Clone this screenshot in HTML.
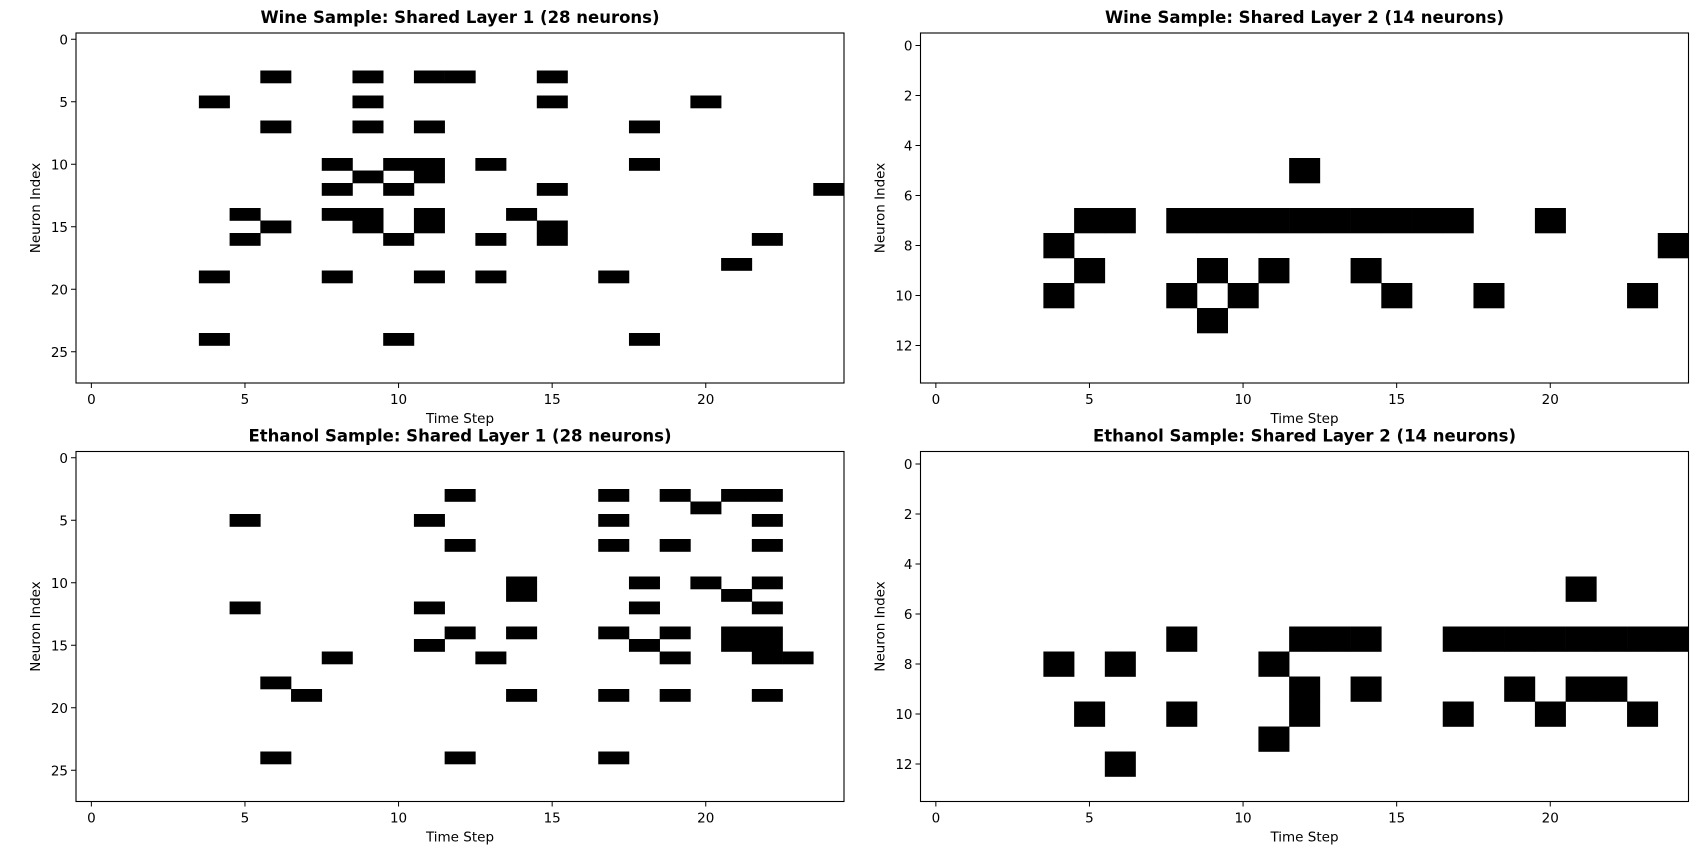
<!DOCTYPE html>
<html><head><meta charset="utf-8"><style>
html,body{margin:0;padding:0;background:#fff;}
svg{display:block;font-family:"DejaVu Sans","Liberation Sans",sans-serif;}
</style></head><body>
<svg id="fig" width="1706" height="852" viewBox="0 0 1706 852"></svg>
<script>
// Active time-step columns, one list per neuron row
const wineL1Spikes = [[],[],[],[6,9,11,12,15],[],[4,9,15,20],[],[6,9,11,18],[],[],[8,10,11,13,18],[9,11],[8,10,15,24],[],[5,8,9,11,14],[6,9,11,15],[5,10,13,15,22],[],[21],[4,8,11,13,17],[],[],[],[],[4,10,18],[],[],[]];
const wineL2Spikes = [[],[],[],[],[],[12],[],[5,6,8,9,10,11,12,13,14,15,16,17,20],[4,24],[5,9,11,14],[4,8,10,15,18,23],[9],[],[]];
const ethL1Spikes = [[],[],[],[12,17,19,21,22],[20],[5,11,17,22],[],[12,17,19,22],[],[],[14,18,20,22],[14,21],[5,11,18,22],[],[12,14,17,19,21,22],[11,18,21,22],[8,13,19,22,23],[],[6],[7,14,17,19,22],[],[],[],[],[6,12,17],[],[],[]];
const ethL2Spikes = [[],[],[],[],[],[21],[],[8,12,13,14,17,18,19,20,21,22,23,24],[4,6,11],[12,14,19,21,22],[5,8,12,17,20,23],[11],[6],[]];
const xTicks = [0,5,10,15,20];
const yTicksL1 = [0,5,10,15,20,25];
const yTicksL2 = [0,2,4,6,8,10,12];
const nSteps = 25;

const NS='http://www.w3.org/2000/svg';
const svg=document.getElementById('fig');
function mk(tag,attrs,parent){const e=document.createElementNS(NS,tag);for(const k in attrs)e.setAttribute(k,attrs[k]);(parent||svg).appendChild(e);return e;}

const panels=[
 {title:'Wine Sample: Shared Layer 1 (28 neurons)',data:wineL1Spikes,yt:yTicksL1,x:76,y:33,name:'wine-layer1'},
 {title:'Wine Sample: Shared Layer 2 (14 neurons)',data:wineL2Spikes,yt:yTicksL2,x:920.5,y:33,name:'wine-layer2'},
 {title:'Ethanol Sample: Shared Layer 1 (28 neurons)',data:ethL1Spikes,yt:yTicksL1,x:76,y:451.5,name:'ethanol-layer1'},
 {title:'Ethanol Sample: Shared Layer 2 (14 neurons)',data:ethL2Spikes,yt:yTicksL2,x:920.5,y:451.5,name:'ethanol-layer2'}
];
const W=768,H=350;
panels.forEach(p=>{
  const g=mk('g',{});
  
  
  const nRows=p.data.length;
  const xs=v=>p.x+(v+0.5)*W/nSteps;
  const ys=v=>p.y+(v+0.5)*H/nRows;
  const cw=W/nSteps, ch=H/nRows;
  p.data.forEach((cols,r)=>{
    cols.forEach(c=>{
      const rc=mk('rect',{x:xs(c)-cw/2,y:ys(r)-ch/2,width:cw+0.3,height:ch+0.3,fill:'#000'},g);
      
      
    });
  });
  const fr=mk('rect',{x:p.x,y:p.y,width:W,height:H,fill:'none',stroke:'#000','stroke-width':1.1},g);
  
  
  xTicks.forEach(t=>{
    const X=xs(t);
    mk('line',{x1:X,y1:p.y+H,x2:X,y2:p.y+H+5,stroke:'#000'},g);
    const tx=mk('text',{x:X,y:p.y+H+21,'font-size':13.5,'text-anchor':'middle',fill:'#000'},g);
    tx.textContent=t;
    
    
  });
  p.yt.forEach(t=>{
    const Y=ys(t);
    mk('line',{x1:p.x-5,y1:Y,x2:p.x,y2:Y,stroke:'#000'},g);
    const tx=mk('text',{x:p.x-8,y:Y+5,'font-size':13.5,'text-anchor':'end',fill:'#000'},g);
    tx.textContent=t;
    
    
  });
  const ti=mk('text',{x:p.x+W/2,y:p.y-10,'font-size':16.5,'font-weight':'bold','text-anchor':'middle',fill:'#000'},g);
  ti.textContent=p.title;
  
  
  const xl=mk('text',{x:p.x+W/2,y:p.y+H+40,'font-size':13.5,'text-anchor':'middle',fill:'#000'},g);
  xl.textContent='Time Step';
  
  
  const yx=p.x-36, yy=p.y+H/2;
  const yl=mk('text',{x:yx,y:yy,'font-size':13.5,'text-anchor':'middle',fill:'#000',transform:`rotate(-90 ${yx} ${yy})`},g);
  yl.textContent='Neuron Index';
  
  
});
</script>
</body></html>
